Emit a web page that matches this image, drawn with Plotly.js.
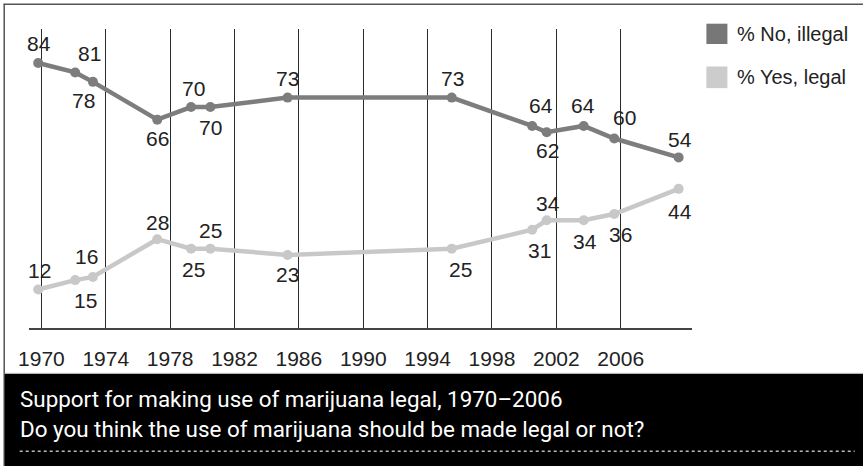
<!DOCTYPE html>
<html>
<head>
<meta charset="utf-8">
<script src="https://cdn.plot.ly/plotly-3.0.1.min.js"></script>
<style>
html,body{margin:0;padding:0;background:#fff;}
#chart{width:863px;height:466px;}
</style>
</head>
<body>
<div id="chart"></div>
<script>
// ---- data ----
const surveyDates = [1969.8, 1972.1, 1973.2, 1977.2, 1979.3, 1980.5, 1985.3, 1995.5, 2000.5, 2001.4, 2003.7, 2005.6, 2009.6];
const noIllegal  = [84, 81, 78, 66, 70, 70, 73, 73, 64, 62, 64, 60, 54];
const yesLegal   = [12, 15, 16, 28, 25, 25, 23, 25, 31, 34, 34, 36, 44];
const tickYears  = [1970, 1974, 1978, 1982, 1986, 1990, 1994, 1998, 2002, 2006];
const seriesNames = ['% No, illegal', '% Yes, legal'];
const captionLines = ['Support for making use of marijuana legal, 1970\u20132006',
                      'Do you think the use of marijuana should be made legal or not?'];

// ---- label offsets (style, px) ----
const noLabelDx = [1, 14, -9, 0, 2, 0, 0, 1, 9, 1, -1, 10, 1];
const noLabelDy = [-19, -19, 19, 19, -19, 20, -19, -19, -20, 18, -20, -21, -18];
const yesLabelDx = [1, 10, -6, 0, 2, 0, 0, 9, 7, 1, 1, 6, 1];
const yesLabelDy = [-19, 20, -20, -17, 21, -18, 20, 21, 21, -17, 21, 20, 23];

const darkGray = '#7d7d7d';
const lightGray = '#c8c8c8';
const numFont = {family: 'Liberation Sans, Arial, sans-serif', size: 21, color: '#222'};

// plot-area geometry in px
const L = 29.3, T = 29.3, W = 663, H = 298.4;
const PX = px => (px - L) / W;
const PY = py => (T + H - py) / H;

const traces = [
  {x: surveyDates, y: noIllegal, name: seriesNames[0], type: 'scatter', mode: 'lines+markers',
   line: {color: darkGray, width: 4.5}, marker: {color: darkGray, size: 10}, hoverinfo: 'skip'},
  {x: surveyDates, y: yesLegal, name: seriesNames[1], type: 'scatter', mode: 'lines+markers',
   line: {color: lightGray, width: 4.5}, marker: {color: lightGray, size: 10}, hoverinfo: 'skip'}
];

const annotations = [];
function addLabels(vals, dx, dy) {
  vals.forEach((v, i) => {
    annotations.push({x: surveyDates[i], y: v, xref: 'x', yref: 'y', text: String(v),
      showarrow: false, xanchor: 'center', yanchor: 'middle',
      xshift: dx[i], yshift: -dy[i], font: numFont});
  });
}
addLabels(noIllegal, noLabelDx, noLabelDy);
addLabels(yesLegal, yesLabelDx, yesLabelDy);

// legend text
const legFont = {family: 'Liberation Sans, Arial, sans-serif', size: 20, color: '#222'};
annotations.push({xref: 'paper', yref: 'paper', x: PX(735), y: PY(34), text: seriesNames[0],
  showarrow: false, xanchor: 'left', yanchor: 'middle', font: legFont});
annotations.push({xref: 'paper', yref: 'paper', x: PX(735), y: PY(77.5), text: seriesNames[1],
  showarrow: false, xanchor: 'left', yanchor: 'middle', font: legFont});

// caption
const capFont = {family: 'Roboto, sans-serif', size: 22.4, color: '#fff'};
annotations.push({xref: 'paper', yref: 'paper', x: PX(18), y: PY(399), text: captionLines[0],
  showarrow: false, xanchor: 'left', yanchor: 'middle', font: capFont});
annotations.push({xref: 'paper', yref: 'paper', x: PX(18), y: PY(428), text: captionLines[1],
  showarrow: false, xanchor: 'left', yanchor: 'middle', font: capFont});

const shapes = [
  // frame
  {type: 'line', xref: 'paper', yref: 'paper', x0: PX(4), x1: PX(870), y0: PY(4.5), y1: PY(4.5),
   line: {color: '#555', width: 1.5}},
  {type: 'line', xref: 'paper', yref: 'paper', x0: PX(4.5), x1: PX(4.5), y0: PY(4), y1: PY(470),
   line: {color: '#555', width: 1.5}},
  // black band
  {type: 'rect', xref: 'paper', yref: 'paper', x0: PX(5), x1: PX(870), y0: PY(373.5), y1: PY(470),
   fillcolor: '#000', line: {width: 0}},
  {type: 'line', xref: 'paper', yref: 'paper', x0: PX(5), x1: PX(870), y0: PY(373), y1: PY(373),
   line: {color: '#aaa', width: 1}},
  // dotted rule
  {type: 'line', xref: 'paper', yref: 'paper', x0: PX(20), x1: PX(855), y0: PY(450.7), y1: PY(450.7),
   line: {color: '#bbb', width: 1.5, dash: 'dot'}},
  // legend swatches
  {type: 'rect', xref: 'paper', yref: 'paper', x0: PX(706.7), x1: PX(727.7), y0: PY(24), y1: PY(44.3),
   fillcolor: '#777', line: {width: 0}},
  {type: 'rect', xref: 'paper', yref: 'paper', x0: PX(706.7), x1: PX(727.7), y0: PY(66.7), y1: PY(88.3),
   fillcolor: '#ccc', line: {width: 0}}
];

const layout = {
  width: 863, height: 466,
  margin: {l: L, t: T, r: 863 - L - W, b: 466 - T - H, pad: 0},
  paper_bgcolor: '#fff', plot_bgcolor: '#fff',
  showlegend: false,
  xaxis: {range: [1969.23, 2010.43], tickvals: tickYears, ticktext: tickYears.map(String),
    showgrid: true, gridcolor: '#2a2a2a', gridwidth: 1, zeroline: false,
    showline: true, linecolor: '#444', linewidth: 1.5, ticks: '', ticklabelstandoff: 11,
    tickfont: numFont, fixedrange: true},
  yaxis: {range: [-0.22, 94.8], showgrid: false, zeroline: false, showticklabels: false,
    showline: false, ticks: '', fixedrange: true},
  shapes: shapes,
  annotations: annotations
};

Plotly.newPlot('chart', traces, layout, {staticPlot: true, displayModeBar: false});
</script>
</body>
</html>
